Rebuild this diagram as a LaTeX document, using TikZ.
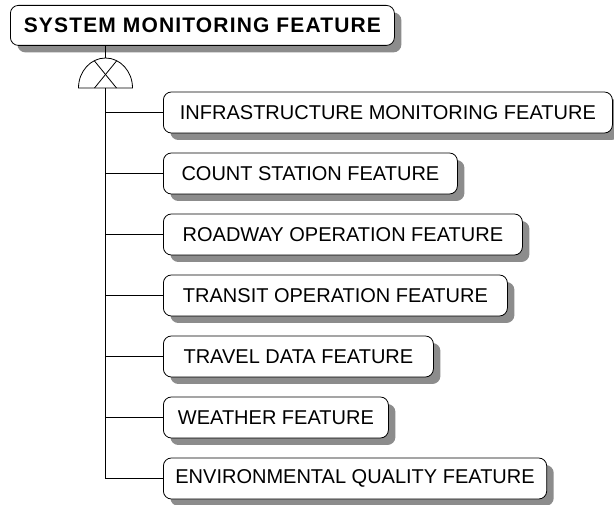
\documentclass[tikz,border=0pt]{standalone}
\usepackage{fontspec}
\setmainfont{Liberation Sans}
\usetikzlibrary{positioning,shadows}

\begin{document}
\begin{tikzpicture}[x=1pt,y=-1pt,
    feature/.style={draw,rounded corners=8pt,fill=white,line width=0.8pt,
      minimum height=41pt,inner xsep=12pt,anchor=west,
      font=\fontsize{20}{24}\selectfont,
      drop shadow={shadow xshift=7pt,shadow yshift=-7pt,fill=black!45,opacity=1}},
    link/.style={line width=0.8pt}
    ]
    \useasboundingbox (0,0) rectangle (614,505);

    \node (sys) [feature,anchor=north west,minimum height=40pt,minimum width=384pt,
      font=\fontsize{21}{24}\selectfont\bfseries\addfontfeatures{LetterSpace=5.5}]
      at (10,5) {SYSTEM MONITORING FEATURE};

    \foreach \w/\t [count=\i] in {449/INFRASTRUCTURE MONITORING FEATURE,
        294/COUNT STATION FEATURE, 359/ROADWAY OPERATION FEATURE,
        344/TRANSIT OPERATION FEATURE, 270/TRAVEL DATA FEATURE,
        225/WEATHER FEATURE, 375/ENVIRONMENTAL QUALITY FEATURE}
      \node (f\i) [feature,minimum width=\w pt] at (163,{51.5+61*\i}) {\t};

    % or-gate under the parent
    \coordinate (gate) at (105.5,88);
    \coordinate (gtop) at (105.5,58);
    \draw[link] (gate) ++(-27,0) arc[start angle=180,end angle=360,x radius=27,y radius=30] -- cycle;
    \draw[link] (gate) ++(-11,0) -- ++(22,-27);
    \draw[link] (gate) ++(11,0) -- ++(-22,-27);
    \draw[link] (sys.south -| gtop) -- (gtop);

    \draw[line width=1.4pt] (gate) -- (gate |- f7.west);
    \foreach \i in {1,...,7}
      \draw[link] (gate |- f\i.west) -- (f\i.west);

  \end{tikzpicture}
\end{document}
